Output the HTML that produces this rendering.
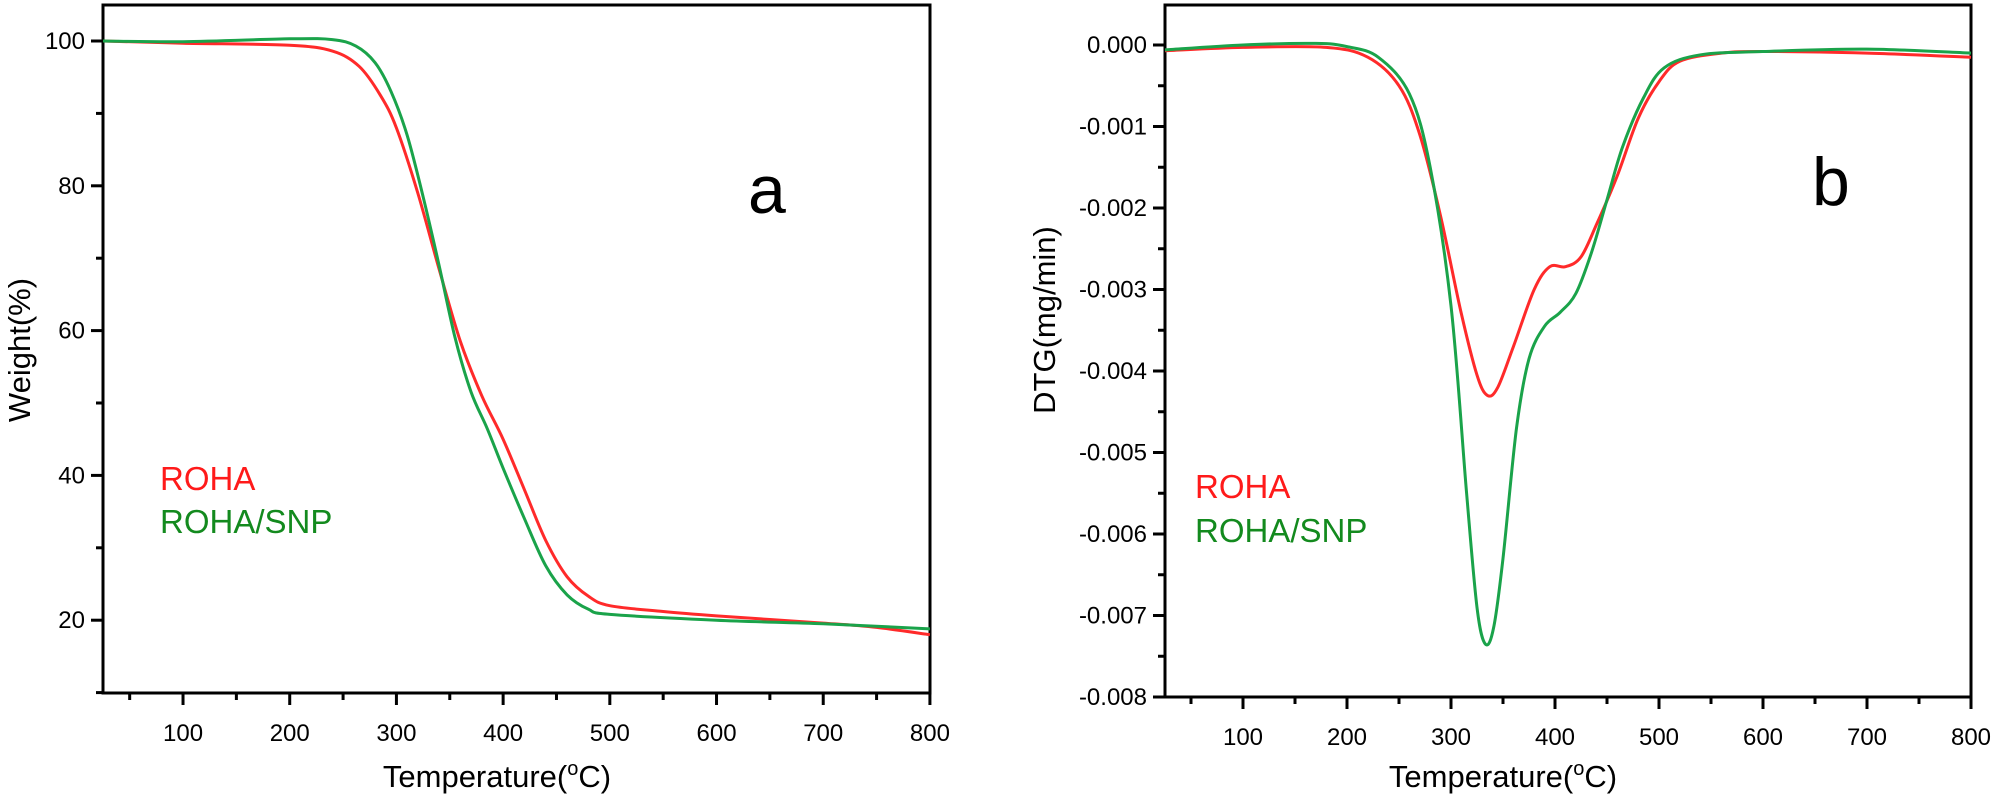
<!DOCTYPE html>
<html><head><meta charset="utf-8"><style>
html,body{margin:0;padding:0;background:#fff;}
svg{display:block;font-family:"Liberation Sans",Arial,sans-serif;}
</style></head><body>
<svg id="s" width="1998" height="801" viewBox="0 0 1998 801" xmlns="http://www.w3.org/2000/svg">
<g id="g"></g>
<text x="497" y="787" font-size="31" text-anchor="middle">Temperature(<tspan font-size="20" dy="-12">o</tspan><tspan dy="12">C)</tspan></text>
<text transform="translate(30,350) rotate(-90)" font-size="31" text-anchor="middle">Weight(%)</text>
<text x="160" y="490" font-size="33" fill="#ff1a1a">ROHA</text>
<text x="160" y="533" font-size="33" fill="#138a1e">ROHA/SNP</text>
<text x="748" y="213" font-size="68">a</text>
<text x="1503" y="787" font-size="31" text-anchor="middle">Temperature(<tspan font-size="20" dy="-12">o</tspan><tspan dy="12">C)</tspan></text>
<text transform="translate(1055,320) rotate(-90)" font-size="31" text-anchor="middle">DTG(mg/min)</text>
<text x="1195" y="498" font-size="33" fill="#ff1a1a">ROHA</text>
<text x="1195" y="542" font-size="33" fill="#138a1e">ROHA/SNP</text>
<text x="1812" y="205" font-size="68">b</text>
</svg>
<script>
var NS="http://www.w3.org/2000/svg",g=document.getElementById('g');
function el(t,a,txt){var e=document.createElementNS(NS,t);for(var k in a)e.setAttribute(k,a[k]);if(txt!=null)e.textContent=txt;g.appendChild(e);return e;}
function spline(pts){var d="M"+pts[0][0].toFixed(1)+","+pts[0][1].toFixed(1);
for(var i=0;i<pts.length-1;i++){var p0=pts[i-1]||pts[i],p1=pts[i],p2=pts[i+1],p3=pts[i+2]||p2;
var c1=[p1[0]+(p2[0]-p0[0])/6,p1[1]+(p2[1]-p0[1])/6],c2=[p2[0]-(p3[0]-p1[0])/6,p2[1]-(p3[1]-p1[1])/6];
d+="C"+c1[0].toFixed(1)+","+c1[1].toFixed(1)+" "+c2[0].toFixed(1)+","+c2[1].toFixed(1)+" "+p2[0].toFixed(1)+","+p2[1].toFixed(1);}return d;}
function plot(o){
 var X=function(t){return o.x0+(t-25)*o.kx;},Y=function(v){return o.y0+(o.v0-v)*o.ky;};
 el('rect',{x:o.x0,y:5,width:o.x1-o.x0,height:o.yb-5,fill:'none',stroke:'#000','stroke-width':3});
 for(var t=50;t<=800;t+=50){var x=X(t),maj=t%100==0;el('line',{x1:x,x2:x,y1:o.yb,y2:o.yb+(maj?12:7),stroke:'#000','stroke-width':3});
  if(maj)el('text',{x:x,y:o.yb+48,'font-size':24,'text-anchor':'middle'},t);}
 o.yt.forEach(function(v){var y=Y(v[0]);el('line',{x1:o.x0,x2:o.x0-(v[1]?12:7),y1:y,y2:y,stroke:'#000','stroke-width':3});
  if(v[1])el('text',{x:o.x0-18,y:y+8,'font-size':24,'text-anchor':'end'},v[1]);});
 o.series.forEach(function(s){el('path',{d:spline(s.d.map(function(p){return [X(p[0]),Y(p[1])];})),fill:'none',stroke:s.c,'stroke-width':3});});
}
var yl=[];for(var v=10;v<=100;v+=10)yl.push([v,v%20==0?String(v):null]);
plot({x0:103,x1:930,yb:693,kx:1.067,v0:100,y0:41,ky:7.24,yt:yl,series:[
{c:'#ff2a2a',d:[[25,100],[100,99.7],[200,99.4],[240,98.6],[265,96.5],[285,92.5],[300,88],[320,79],[340,68.5],[360,58.5],[380,51],[400,45],[420,38],[440,31],[460,26],[480,23.3],[500,22],[550,21.2],[600,20.6],[700,19.6],[750,19],[800,18]]},
{c:'#1aa34a',d:[[25,100],[100,99.9],[200,100.3],[240,100.2],[262,99.3],[280,97],[295,93],[310,87],[325,78.5],[340,69],[355,59],[370,51.5],[385,46.5],[400,41],[420,34],[440,27.5],[460,23.5],[480,21.5],[500,20.8],[600,20],[700,19.5],[800,18.8]]}]});
var y2=[];for(var i=0;i<=16;i++){var v=-i*0.5;y2.push([v,i%2==0?(v==0?"0.000":"-0.00"+(i/2)):null]);}
plot({x0:1165,x1:1971,yb:697,kx:1.04,v0:0,y0:45,ky:81.5,yt:y2,series:[
{c:'#ff2a2a',d:[[25,-0.07],[100,-0.03],[180,-0.03],[220,-0.15],[250,-0.5],[270,-1.1],[290,-2.1],[310,-3.3],[325,-4.05],[335,-4.3],[345,-4.2],[360,-3.7],[380,-3.0],[395,-2.72],[410,-2.72],[425,-2.6],[440,-2.2],[460,-1.6],[480,-0.9],[500,-0.45],[520,-0.2],[560,-0.1],[600,-0.08],[700,-0.1],[800,-0.15]]},
{c:'#1aa34a',d:[[25,-0.06],[100,0],[170,0.02],[200,-0.02],[230,-0.15],[260,-0.6],[280,-1.5],[300,-3.2],[315,-5.5],[325,-6.9],[333,-7.35],[341,-7.15],[350,-6.3],[363,-4.7],[375,-3.85],[390,-3.45],[405,-3.28],[420,-3.05],[435,-2.55],[450,-1.9],[465,-1.25],[485,-0.65],[505,-0.28],[540,-0.12],[600,-0.08],[700,-0.05],[800,-0.1]]}]});
</script>
</body></html>
